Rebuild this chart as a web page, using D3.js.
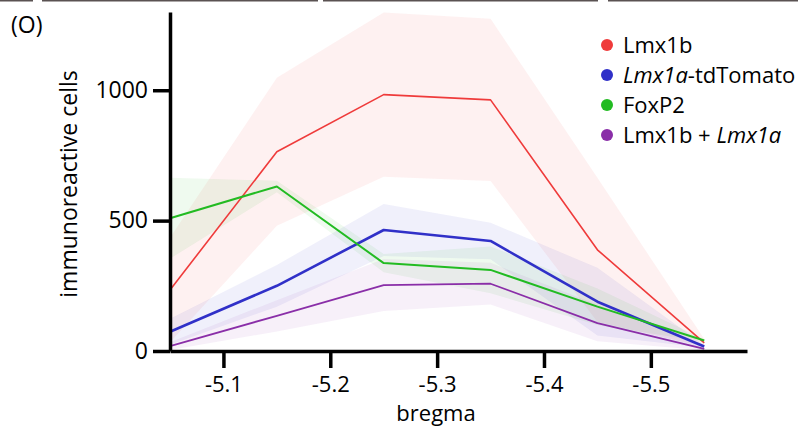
<!DOCTYPE html>
<html>
<head>
<meta charset="utf-8">
<script src="https://cdn.jsdelivr.net/npm/d3@7"></script>
<style>
  body { margin: 0; background: #fff; }
  svg { display: block; font-family: "Open Sans", sans-serif; }
</style>
</head>
<body>
<div id="chart"></div>
<script>
const bregma = [-5.05, -5.15, -5.25, -5.35, -5.45, -5.55];
const xTicks = [-5.1, -5.2, -5.3, -5.4, -5.5];
const yTicks = [0, 500, 1000];

const lmx1b = [234, 764, 983, 963, 388, 31];
const lmx1bErr = [200, 284, 315, 311, 276, 15];
const lmx1a = [74, 250, 464, 422, 189, 17];
const lmx1aErr = [50, 80, 100, 70, 130, 5];
const foxp2 = [509, 631, 337, 311, 170, 40];
const foxp2Err = [155, 22, 35, 90, 70, 5];
const coloc = [19, 135, 253, 258, 107, 8];
const colocErr = [15, 60, 100, 80, 70, 5];

const series = [
  { name: 'Lmx1b', values: lmx1b, err: lmx1bErr, color: '#ef3b3b', width: 1.6 },
  { name: 'Lmx1a-tdTomato', values: lmx1a, err: lmx1aErr, color: '#3030c8', width: 2.6 },
  { name: 'FoxP2', values: foxp2, err: foxp2Err, color: '#22bb22', width: 2 },
  { name: 'Lmx1b + Lmx1a', values: coloc, err: colocErr, color: '#8a2ea8', width: 1.8 },
];

const width = 798;
const height = 428;

const svg = d3.select('#chart')
  .append('svg')
  .attr('width', width)
  .attr('height', height);

// strips left over from the panels above
[[0, 33], [42, 318], [323, 598], [608, 798]].forEach(([a, b]) => {
  svg.append('rect')
    .attr('x', a).attr('y', 0)
    .attr('width', b - a).attr('height', 1.5)
    .attr('fill', '#5a5252');
});

const x = d3.scaleLinear().domain([-5.05, -5.59]).range([170, 747]);
const y = d3.scaleLinear().domain([0, 1300]).range([351, 12]).clamp(true);

// error bands
series.forEach((s) => {
  const pts = bregma.map((b, i) => ({ b, lo: s.values[i] - s.err[i], hi: s.values[i] + s.err[i] }));
  svg.append('path')
    .datum(pts)
    .attr('fill', s.color)
    .attr('fill-opacity', 0.07)
    .attr('d', d3.area()
      .x((d) => x(d.b))
      .y0((d) => y(d.lo))
      .y1((d) => y(d.hi)));
});

// mean lines
series.forEach((s) => {
  svg.append('path')
    .datum(bregma.map((b, i) => [b, s.values[i]]))
    .attr('fill', 'none')
    .attr('stroke', s.color)
    .attr('stroke-width', s.width)
    .attr('stroke-linejoin', 'round')
    .attr('d', d3.line()
      .x((d) => x(d[0]))
      .y((d) => y(d[1])));
});

// axes
const xAxis = svg.append('g')
  .attr('transform', `translate(0,${y(0)})`)
  .call(d3.axisBottom(x).tickValues(xTicks).tickSize(17).tickSizeOuter(0).tickPadding(8)
    .tickFormat(d3.format('.1f')));
const yAxis = svg.append('g')
  .attr('transform', `translate(${x(-5.05)},0)`)
  .call(d3.axisLeft(y).tickValues(yTicks).tickSize(17).tickSizeOuter(0).tickPadding(5)
    .tickFormat(d3.format('d')));

[xAxis, yAxis].forEach((g) => {
  g.select('.domain').attr('stroke', '#000').attr('stroke-width', 3.5);
  g.selectAll('.tick line').attr('stroke', '#000').attr('stroke-width', 3.5);
  g.selectAll('.tick text')
    .attr('fill', '#000')
    .style('font-family', '"Open Sans", sans-serif')
    .style('font-size', '22px');
});
xAxis.selectAll('.tick text').text((d) => d.toFixed(1));
yAxis.selectAll('.tick text').style('font-size', '23px');

svg.append('text')
  .attr('x', 436)
  .attr('y', 421)
  .attr('text-anchor', 'middle')
  .style('font-size', '22px')
  .text('bregma');

svg.append('text')
  .attr('transform', 'translate(77,184) rotate(-90)')
  .attr('text-anchor', 'middle')
  .style('font-size', '23px')
  .text('immunoreactive cells');

svg.append('text')
  .attr('x', 11)
  .attr('y', 33)
  .style('font-size', '23px')
  .text('(O)');

// legend
const legendParts = [
  [['Lmx1b', false]],
  [['Lmx1a', true], ['-tdTomato', false]],
  [['FoxP2', false]],
  [['Lmx1b + ', false], ['Lmx1a', true]],
];
const legend = svg.append('g').attr('transform', 'translate(607,45)');
series.forEach((s, i) => {
  const row = legend.append('g').attr('transform', `translate(0,${i * 30})`);
  row.append('circle').attr('r', 6).attr('fill', s.color);
  const t = row.append('text').attr('x', 16).attr('y', 8).style('font-size', '22px');
  legendParts[i].forEach(([txt, it]) => {
    t.append('tspan').style('font-style', it ? 'italic' : 'normal').text(txt);
  });
});
</script>
</body>
</html>
